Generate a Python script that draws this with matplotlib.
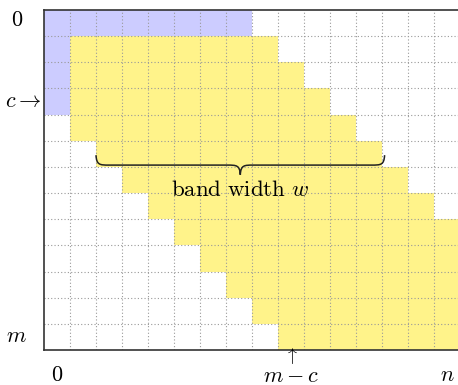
import matplotlib.pyplot as plt
from matplotlib.path import Path
from matplotlib.patches import PathPatch

plt.rcParams['mathtext.fontset'] = 'cm'

# grid size: rows 0..m, columns 0..n
n_rows = 13
n_cols = 16

# blue block (first row and first column, rows 0..c)
blue_rows = [0, 1, 2, 3]
blue_start = [0, 0, 0, 0]
blue_width = [8, 1, 1, 1]

# yellow band, per row: first and last column
yellow_rows = [1, 2, 3, 4, 5, 6, 7, 8, 9, 10, 11, 12]
yellow_first = [1, 1, 1, 1, 2, 3, 4, 5, 6, 7, 8, 9]
yellow_last = [8, 9, 10, 11, 12, 13, 14, 15, 15, 15, 15, 15]

fig = plt.figure(figsize=(4.58, 3.85), dpi=100)
ax = fig.add_axes([44 / 458, 35 / 385, 416 / 458, 340 / 385])
ax.set_xlim(0, n_cols)
ax.set_ylim(n_rows, 0)

ax.barh(blue_rows, blue_width, left=blue_start, height=1, align='edge',
        color='#ccccff', linewidth=0, zorder=1)
yw = [l - f + 1 for f, l in zip(yellow_first, yellow_last)]
ax.barh(yellow_rows, yw, left=yellow_first, height=1, align='edge',
        color='#fff38a', linewidth=0, zorder=1)

# dotted grid
for x in range(1, n_cols):
    ax.axvline(x, color='#999999', lw=0.8, ls=(0, (1, 2)), zorder=2)
for y in range(1, n_rows):
    ax.axhline(y, color='#999999', lw=0.8, ls=(0, (1, 2)), zorder=2)

ax.set_xticks([])
ax.set_yticks([])
for s in ['top', 'left', 'bottom']:
    ax.spines[s].set_color('#333333')
    ax.spines[s].set_linewidth(1.2)
ax.spines['right'].set_visible(False)

# brace under the band
x0, x1 = 2.0, 13.1
xc = (x0 + x1) / 2
yt, ym, yp = 5.55, 5.93, 6.3
verts = [(x0, yt), (x0 + 0.02, ym), (x0 + 0.15, ym), (x0 + 0.5, ym),
         (xc - 0.5, ym),
         (xc - 0.15, ym), (xc - 0.02, ym), (xc, yp),
         (xc + 0.02, ym), (xc + 0.15, ym), (xc + 0.5, ym),
         (x1 - 0.5, ym),
         (x1 - 0.15, ym), (x1 - 0.02, ym), (x1, yt)]
codes = [Path.MOVETO, Path.CURVE4, Path.CURVE4, Path.CURVE4,
         Path.LINETO,
         Path.CURVE4, Path.CURVE4, Path.CURVE4,
         Path.CURVE4, Path.CURVE4, Path.CURVE4,
         Path.LINETO,
         Path.CURVE4, Path.CURVE4, Path.CURVE4]
ax.add_patch(PathPatch(Path(verts, codes), fill=False, lw=1.1,
                       color='#222222', zorder=3))
ax.text(xc, 6.85, r'$\mathrm{band\ width}\ w$', ha='center', va='center',
        fontsize=16.5, zorder=3)

fs = 16
kw = dict(ha='center', va='center', fontsize=fs, clip_on=False)
ax.text(-1.05, 0.38, r'$0$', **kw)
ax.text(-0.08, 3.48, r'$c\rightarrow$', ha='right', va='center',
        fontsize=fs, clip_on=False)
ax.text(-1.05, 12.45, r'$m$', **kw)
ax.text(0.5, 13.97, r'$0$', **kw)
ax.text(9.5, 13.24, r'$\uparrow$', ha='center', va='center', fontsize=13,
        clip_on=False)
ax.text(9.5, 13.99, r'$m-c$', **kw)
ax.text(15.5, 13.97, r'$n$', **kw)

fig.savefig('out.png', dpi=100)
